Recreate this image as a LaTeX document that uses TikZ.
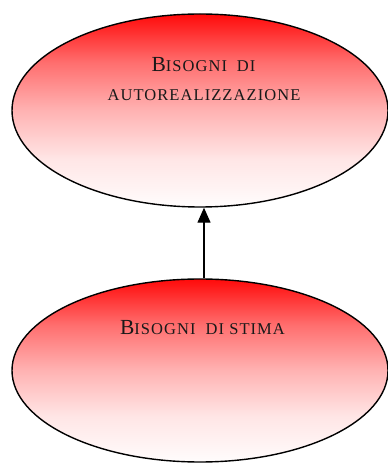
\documentclass[tikz,border=0pt]{standalone}
\usepackage{fontspec}
\setmainfont{Liberation Serif}
\usetikzlibrary{arrows.meta,shapes.geometric}
\colorlet{fadeA}{red!57}
\colorlet{fadeB}{red!30}
\colorlet{fadeC}{red!10}
\colorlet{fadeD}{red!1}
\pgfdeclareverticalshading{redfade}{100bp}{color(0bp)=(fadeD); color(25bp)=(fadeD); color(37.5bp)=(fadeC); color(50bp)=(fadeB); color(62.5bp)=(fadeA); color(75bp)=(red!96); color(100bp)=(red!96)}
\newcommand{\capBig}[1]{{\fontsize{21.5}{24}\selectfont #1}}
\newcommand{\capSmall}[1]{{\addfontfeature{LetterSpace=6.5}\fontsize{16.5}{20}\selectfont #1}}
\tikzset{
  need/.style={ellipse, draw=black, line width=1.4pt, shading=redfade,
    inner sep=0pt, minimum width=376pt},
  lbl/.style={anchor=base, inner sep=0pt, text=black!90},
  uparrow/.style={line width=1.3pt, -{Triangle[width=13pt,length=15pt]}}
}
\begin{document}
\begin{tikzpicture}
\useasboundingbox (0,0) rectangle (388pt,463pt);
\node[need, minimum height=193pt] (top) at (200pt,352.5pt) {};
\node[need, minimum height=183pt] (bot) at (200pt,92.5pt) {};
\node[lbl] (t1) at (203.5pt,391.3pt) {\capBig{B}\capSmall{ISOGNI\hspace{0.6em}DI}};
\node[lbl] (t2) at (204pt,362pt) {\capSmall{AUTOREALIZZAZIONE}};
\node[lbl] (b1) at (202.5pt,128pt) {\capBig{B}\capSmall{ISOGNI\hspace{0.6em}DI STIMA}};
\draw[uparrow] ([xshift=4pt]bot.north) -- ([xshift=4pt]top.south);
\end{tikzpicture}
\end{document}
